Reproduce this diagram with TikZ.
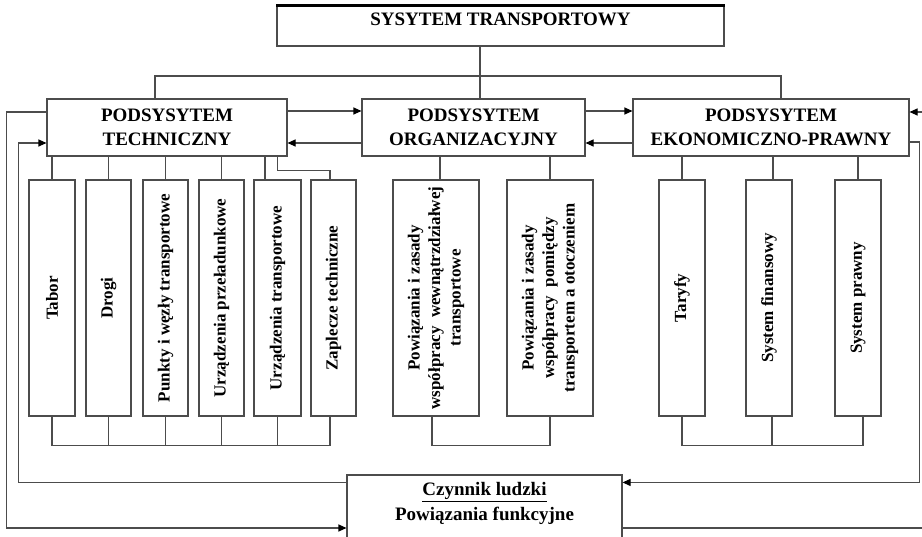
\documentclass[tikz,border=0pt]{standalone}
\usepackage{fontspec}
\setmainfont{Liberation Serif}
\usepackage{graphicx}
\usetikzlibrary{arrows.meta}
\begin{document}
\begin{tikzpicture}[x=1pt,y=-1pt,
  line/.style={draw=black!70, line width=1.1pt},
  box/.style={line, fill=white, inner sep=0pt},
  arr/.style={line, -{Triangle[length=8pt,width=7pt,color=black]}},
  hdfont/.style={font=\fontsize{19}{23.5}\selectfont\bfseries},
  head/.style={box, hdfont, align=center, minimum height=57pt},
  col/.style={box, font=\fontsize{17}{20.5}\selectfont\bfseries, minimum height=236pt}]
\useasboundingbox (0,0) rectangle (922,537);
\clip (0,0) rectangle (922,537);

% top level
\node[box, hdfont, minimum width=447pt, text height=20pt, text depth=20pt] (top) at (500.5,26) {SYSYTEM TRANSPORTOWY};
\draw[line width=2.2pt] (top.north west) -- (top.north east);

% subsystems
\node[head, minimum width=240pt] (tech) at (167,127.5) {PODSYSYTEM\\TECHNICZNY};
\node[head, minimum width=223pt] (org) at (473.5,127.5) {PODSYSYTEM\\ORGANIZACYJNY};
\node[head, minimum width=276pt] (ekon) at (771,127.5) {PODSYSYTEM\\EKONOMICZNO-PRAWNY};

% components of the technical subsystem
\node[col, minimum width=46pt] (t1) at (52,298) {\rotatebox{90}{Tabor}};
\node[col, minimum width=45pt] (t2) at (108.5,298) {\rotatebox{90}{Drogi}};
\node[col, minimum width=45pt] (t3) at (165.5,298) {\rotatebox{90}{Punkty i węzły transportowe}};
\node[col, minimum width=45pt] (t4) at (221.5,298) {\rotatebox{90}{Urządzenia przeładunkowe}};
\node[col, minimum width=47pt] (t5) at (277.5,298) {\rotatebox{90}{Urządzenia transportowe}};
\node[col, minimum width=45pt] (t6) at (333.5,298) {\rotatebox{90}{Zaplecze techniczne}};

% components of the organisational subsystem
\node[col, minimum width=86pt] (o1) at (436,298) {\rotatebox{90}{\begin{tabular}{@{}c@{}}Powiązania i zasady\\współpracy\ \ wewnątrzdziałwej\\transportowe\end{tabular}}};
\node[col, minimum width=86pt] (o2) at (550,298) {\rotatebox{90}{\begin{tabular}{@{}c@{}}Powiązania i zasady\\współpracy\ \ pomiędzy\\transportem\ a\ otoczeniem\end{tabular}}};

% components of the economic-legal subsystem
\node[col, minimum width=46pt] (e1) at (682,298) {\rotatebox{90}{Taryfy}};
\node[col, minimum width=46pt] (e2) at (769,298) {\rotatebox{90}{System finansowy}};
\node[col, minimum width=46pt] (e3) at (858,298) {\rotatebox{90}{System prawny}};

% human factor
\node[box, minimum width=275pt, minimum height=85pt] (czynnik) at (484.5,517.5) {};
\node[hdfont, anchor=base] (cz1) at (484.5,496) {\underline{Czynnik ludzki}};
\node[hdfont, anchor=base] (cz2) at (484.5,520) {Powiązania funkcyjne};

% top level to subsystems
\coordinate (bus) at (480,76);
\draw[line] ([xshift=-20.5pt]top.south) -- ([xshift=6.5pt]org.north);
\draw[line] ([xshift=-12pt]tech.north) |- (bus) -| ([xshift=10pt]ekon.north);

% links between subsystems
\draw[arr] ([yshift=16.5pt]tech.east) -- ([yshift=16.5pt]org.west);
\draw[arr] ([yshift=-15.5pt]org.west) -- ([yshift=-15.5pt]tech.east);
\draw[arr] ([yshift=16.5pt]org.east) -- ([yshift=16.5pt]ekon.west);
\draw[arr] ([yshift=-15.5pt]ekon.west) -- ([yshift=-15.5pt]org.east);

% technical subsystem tree
\foreach \n in {t1,t2,t3,t4}
  \draw[line] (\n.north) -- (\n.north |- tech.south);
\draw[line] ([xshift=-12.5pt]t5.north) -- ([xshift=-12.5pt]t5.north |- tech.south);
\draw[line] (t5.north |- tech.south) -- ++(0,14) -| ([xshift=-3.5pt]t6.north);
\draw[line] (t1.south) -- ++(0,29) -| ([xshift=-3.5pt]t6.south);
\foreach \n in {t2,t3,t4,t5}
  \draw[line] (\n.south) -- ++(0,29);

% organisational subsystem tree
\draw[line] ([xshift=4pt]o1.north) -- ([xshift=4pt]o1.north |- org.south);
\draw[line] (o2.north) -- (o2.north |- org.south);
\draw[line] ([xshift=-4pt]o1.south) -- ++(0,29) -| (o2.south);

% economic-legal subsystem tree
\draw[line] (e1.north) -- (e1.north |- ekon.south);
\draw[line] ([xshift=4pt]e2.north) -- ([xshift=4pt]e2.north |- ekon.south);
\draw[line] (e3.north) -- (e3.north |- ekon.south);
\draw[line] (e1.south) -- ++(0,29) -| ([xshift=5pt]e3.south);
\draw[line] ([xshift=3pt]e2.south) -- ++(0,29);

% feedback loops with the human factor
\coordinate (low) at (0,528);
\draw[arr] ([yshift=15.5pt]tech.west) -- ++(-40,0) |- (czynnik.west |- low);
\draw[arr] ([yshift=-8pt]czynnik.north west) -- ++(-328,0) |- ([yshift=-15.5pt]tech.west);
\draw[arr] ([yshift=-14.5pt]ekon.east) -- ++(10,0) |- ([yshift=-8pt]czynnik.north east);
\draw[arr] (czynnik.east |- low) -- ++(308,0) |- ([yshift=15.5pt]ekon.east);
\end{tikzpicture}
\end{document}
